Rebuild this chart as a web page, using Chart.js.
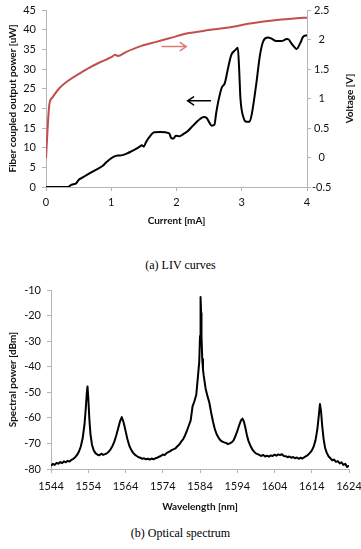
<!DOCTYPE html>
<html><head><meta charset="utf-8">
<script src="https://cdn.jsdelivr.net/npm/chart.js@4.4.1/dist/chart.umd.min.js"></script>
<style>
html,body{margin:0;padding:0;background:#fff;}
body{width:361px;height:549px;position:relative;overflow:hidden;}
.box{position:absolute;left:0;width:361px;}
.cap{position:absolute;left:0;width:361px;text-align:center;font-family:"Liberation Serif","DejaVu Serif",serif;font-size:12px;line-height:14px;color:#000;}
</style></head><body>
<div class="box" style="top:0;height:235px"><canvas id="c1" width="361" height="235"></canvas></div>
<div class="cap" style="top:258px;">(a) LIV curves</div>
<div class="box" style="top:275px;height:245px"><canvas id="c2" width="361" height="245"></canvas></div>
<div class="cap" style="top:526px;">(b) Optical spectrum</div>
<script>
// ---- LIV data ----
const currentMA = [0,0.1,0.2,0.3,0.34,0.38,0.42,0.46,0.5,0.55,0.6,0.7,0.8,0.87,0.92,1.0,1.05,1.1,1.17,1.25,1.3,1.38,1.43,1.47,1.5,1.53,1.58,1.66,1.75,1.83,1.89,1.92,1.95,1.99,2.05,2.1,2.17,2.23,2.3,2.36,2.42,2.46,2.5,2.54,2.58,2.61,2.64,2.69,2.74,2.79,2.84,2.9,2.94,2.96,2.98,3.03,3.07,3.12,3.16,3.22,3.28,3.33,3.4,3.45,3.53,3.61,3.69,3.72,3.76,3.8,3.84,3.9,3.94,4.0];
const powerUW   = [0,0,0,0,0,0.5,0.7,0.9,1.8,2.3,2.8,3.8,4.7,5.4,6.2,7.3,7.8,8.0,8.1,8.6,9.0,9.7,10.2,10.6,10.3,11.3,12.6,13.9,14.0,13.9,13.6,12.4,12.3,13.0,12.9,13.4,14.2,15.2,16.4,17.3,17.8,17.6,16.5,15.6,15.8,19.0,21.7,25.1,26.4,30.2,33.6,34.8,35.4,30.0,22.5,17.5,16.6,16.6,19.1,25.9,33.6,37.1,38.0,37.8,37.1,37.1,37.6,37.5,36.5,35.7,35.1,36.7,38.2,38.6];
const voltCurrentMA = [0,0.02,0.05,0.1,0.2,0.35,0.51,0.66,0.82,1.0,1.06,1.1,1.23,1.43,1.69,1.89,2.15,2.5,2.77,3.13,3.54,3.85,4.0];
const voltageV      = [-0.01,0.4,0.89,1.02,1.17,1.31,1.42,1.52,1.61,1.70,1.74,1.72,1.79,1.88,1.96,2.02,2.10,2.16,2.20,2.27,2.33,2.36,2.37];
const currentTicks = [0,1,2,3,4];
const powerTicks = [0,5,10,15,20,25,30,35,40,45];
const voltageTicks = [-0.5,0,0.5,1,1.5,2,2.5];

// ---- Spectrum data ----
const wavelengthNM = [1544,1544.5,1545,1545.5,1546,1546.5,1547,1547.5,1548,1548.5,1549,1549.5,1550,1550.5,1551,1551.5,1552,1552.5,1553,1553.3,1553.6,1553.8,1554,1554.3,1554.6,1555,1555.5,1556,1556.5,1557,1557.5,1558,1558.5,1559,1559.5,1560,1560.5,1561,1561.5,1562,1562.5,1563,1563.5,1564,1564.5,1565,1565.5,1566,1566.5,1567,1567.5,1568,1568.5,1569,1569.5,1570,1570.5,1571,1571.5,1572,1572.5,1573,1573.5,1574,1574.5,1575,1575.5,1576,1576.5,1577,1577.5,1578,1578.5,1579,1579.5,1580,1580.5,1581,1581.5,1582,1582.5,1583,1583.5,1583.8,1584,1584.1,1584.2,1584.3,1584.4,1584.6,1584.8,1585,1585.5,1586,1586.5,1587,1587.5,1588,1588.5,1589,1589.5,1590,1590.5,1591,1591.5,1592,1592.5,1593,1593.5,1594,1594.5,1595,1595.4,1595.8,1596.2,1596.6,1597,1597.5,1598,1598.5,1599,1599.5,1600,1600.5,1601,1601.5,1602,1602.5,1603,1603.5,1604,1604.5,1605,1605.5,1606,1606.5,1607,1607.5,1608,1608.5,1609,1609.5,1610,1610.5,1611,1611.5,1612,1612.5,1613,1613.5,1614,1614.5,1615,1615.5,1615.9,1616.2,1616.5,1616.8,1617.2,1617.6,1618,1618.5,1619,1619.5,1620,1620.5,1621,1621.5,1622,1622.5,1623,1623.5,1624];
const spectrumDBM = [-78.8,-78.0,-78.4,-77.6,-77.9,-77.3,-77.7,-77.0,-77.4,-76.8,-77.1,-76.4,-76.0,-75.4,-74.5,-73.2,-71.2,-68.0,-62.5,-57.0,-50.5,-47.7,-52.0,-60.5,-66.5,-70.5,-72.8,-73.9,-74.4,-74.6,-74.0,-74.5,-74.2,-73.9,-73.2,-72.3,-71.0,-69.3,-67.0,-64.3,-61.5,-59.7,-61.8,-65.0,-68.3,-70.8,-72.4,-73.6,-74.4,-74.9,-75.4,-75.6,-76.0,-75.8,-76.2,-76.0,-76.3,-75.9,-76.2,-75.8,-75.6,-75.2,-74.9,-74.3,-74.6,-73.8,-73.4,-73.0,-72.5,-72.2,-71.8,-71.0,-70.3,-69.2,-68.3,-66.8,-65.0,-63.0,-61.0,-55.5,-53.5,-51.0,-43.0,-38.0,-28.0,-19.0,-12.7,-19.0,-28.0,-37.0,-41.0,-43.5,-48.5,-51.5,-54.0,-58.0,-61.5,-64.5,-66.5,-67.8,-68.8,-69.3,-69.6,-69.8,-70.3,-70.0,-69.6,-68.8,-67.2,-65.2,-63.0,-61.0,-60.3,-61.5,-64.0,-66.8,-69.0,-70.8,-72.2,-73.2,-73.9,-74.2,-74.6,-74.9,-74.5,-75.1,-74.8,-75.2,-74.7,-74.9,-74.4,-74.8,-74.3,-74.6,-74.2,-74.9,-75.0,-75.4,-75.1,-75.6,-75.3,-75.8,-75.5,-76.0,-75.6,-75.9,-75.4,-75.0,-74.5,-73.7,-72.8,-71.3,-68.8,-64.5,-59.0,-54.6,-57.5,-63.0,-68.5,-71.8,-73.6,-75.0,-75.8,-76.6,-76.3,-77.2,-76.9,-77.8,-77.4,-78.4,-78.0,-79.2,-78.6];
const wavelengthTicks = [1544,1554,1564,1574,1584,1594,1604,1614,1624];
const spectrumTicks = [-80,-70,-60,-50,-40,-30,-20,-10];

const axisColor = '#b5b5b5';
const textColor = '#111';
const tickFont = {family:'Lato', size:11};
const titleFont = {family:'Lato', size:10, weight:'bold'};
const fixedTicks = arr => s => { s.ticks = arr.map(v => ({value: v})); };
const fmt = v => String(v);
const pts = (xs, ys) => xs.map((x, i) => ({x: x, y: ys[i]}));

function axis(opts){
  return Object.assign({
    type:'linear',
    grid:{drawOnChartArea:false, drawTicks:true, tickLength:4, color:axisColor, tickColor:axisColor},
    border:{color:axisColor, width:1},
  }, opts);
}

const extras = {
  id:'extras',
  afterDatasetsDraw(chart, args, o){
    const ctx = chart.ctx;
    (o.arrows || []).forEach(a => {
      const xs = chart.scales.x, ys = chart.scales.y;
      const x1 = xs.getPixelForValue(a.from), x2 = xs.getPixelForValue(a.to), y = ys.getPixelForValue(a.at);
      const d = Math.sign(x2 - x1);
      ctx.save();
      ctx.strokeStyle = a.color; ctx.lineWidth = 1.5; ctx.lineCap = 'round';
      ctx.beginPath(); ctx.moveTo(x1, y); ctx.lineTo(x2, y);
      ctx.moveTo(x2 - d*6, y - 4); ctx.lineTo(x2, y); ctx.lineTo(x2 - d*6, y + 4);
      ctx.stroke(); ctx.restore();
    });
    if (o.rightTitle) {
      const ca = chart.chartArea;
      ctx.save();
      ctx.font = 'bold 10px Lato';
      ctx.fillStyle = textColor; ctx.textAlign = 'center'; ctx.textBaseline = 'middle';
      ctx.translate(chart.width - 11, (ca.top + ca.bottom) / 2);
      ctx.rotate(-Math.PI / 2);
      ctx.fillText(o.rightTitle, 0, 0);
      ctx.restore();
    }
  }
};

new Chart(document.getElementById('c1'), {
  type:'line',
  data:{datasets:[
    {data:pts(currentMA, powerUW), yAxisID:'y', borderColor:'#000', borderWidth:2, borderJoinStyle:'round', pointRadius:0, cubicInterpolationMode:'monotone', fill:false},
    {data:pts(voltCurrentMA, voltageV), yAxisID:'y1', borderColor:'#c0504d', borderWidth:2, borderJoinStyle:'round', pointRadius:0, cubicInterpolationMode:'monotone', fill:false}
  ]},
  options:{
    responsive:false, animation:false, devicePixelRatio:1,
    layout:{padding:{top:10, left:0, right:0, bottom:0}},
    plugins:{legend:{display:false}, tooltip:{enabled:false},
      extras:{
        arrows:[{from:1.78, to:2.15, at:35.7, color:'#dc7b78'}, {from:2.52, to:2.17, at:21.9, color:'#000'}],
        rightTitle:'Voltage [V]'
      }},
    scales:{
      x: axis({min:0, max:4, position:'bottom', afterBuildTicks:fixedTicks(currentTicks),
        afterFit:s => {s.height = 48; s.paddingLeft = 0; s.paddingRight = 0;},
        ticks:{font:tickFont, color:textColor, padding:5, callback:fmt, maxRotation:0, autoSkip:false},
        title:{display:true, text:'Current [mA]', font:titleFont, color:textColor, padding:{top:0, bottom:8}}}),
      y: axis({min:0, max:45, position:'left', afterBuildTicks:fixedTicks(powerTicks),
        afterFit:s => {s.width = 46; s.paddingTop = 0; s.paddingBottom = 0;},
        ticks:{font:tickFont, color:textColor, padding:6, callback:fmt, autoSkip:false},
        title:{display:true, text:'Fiber coupled output power [uW]', font:titleFont, color:textColor, padding:{top:7, bottom:0}}}),
      y1: axis({min:-0.5, max:2.5, position:'right', afterBuildTicks:fixedTicks(voltageTicks),
        afterFit:s => {s.width = 54; s.paddingTop = 0; s.paddingBottom = 0;},
        ticks:{font:tickFont, color:textColor, padding:1, callback:fmt, autoSkip:false, crossAlign:'center'}})
    }
  },
  plugins:[extras]
});

new Chart(document.getElementById('c2'), {
  type:'line',
  data:{datasets:[
    {data:pts(wavelengthNM, spectrumDBM), borderColor:'#000', borderWidth:2, borderJoinStyle:'round', pointRadius:0, tension:0, fill:false}
  ]},
  options:{
    responsive:false, animation:false, devicePixelRatio:1,
    layout:{padding:{top:15, left:0, right:12, bottom:0}},
    plugins:{legend:{display:false}, tooltip:{enabled:false}},
    scales:{
      x: axis({min:1544, max:1624, position:'bottom', afterBuildTicks:fixedTicks(wavelengthTicks),
        afterFit:s => {s.height = 51; s.paddingLeft = 0; s.paddingRight = 0;},
        ticks:{font:tickFont, color:textColor, padding:7, callback:fmt, maxRotation:0, autoSkip:false},
        title:{display:true, text:'Wavelength [nm]', font:titleFont, color:textColor, padding:{top:0, bottom:7}}}),
      y: axis({min:-80, max:-10, position:'left', afterBuildTicks:fixedTicks(spectrumTicks),
        afterFit:s => {s.width = 51; s.paddingTop = 0; s.paddingBottom = 0;},
        ticks:{font:tickFont, color:textColor, padding:6, callback:fmt, autoSkip:false},
        title:{display:true, text:'Spectral power [dBm]', font:titleFont, color:textColor, padding:{top:7, bottom:0}}})
    }
  }
});
</script>
</body></html>
